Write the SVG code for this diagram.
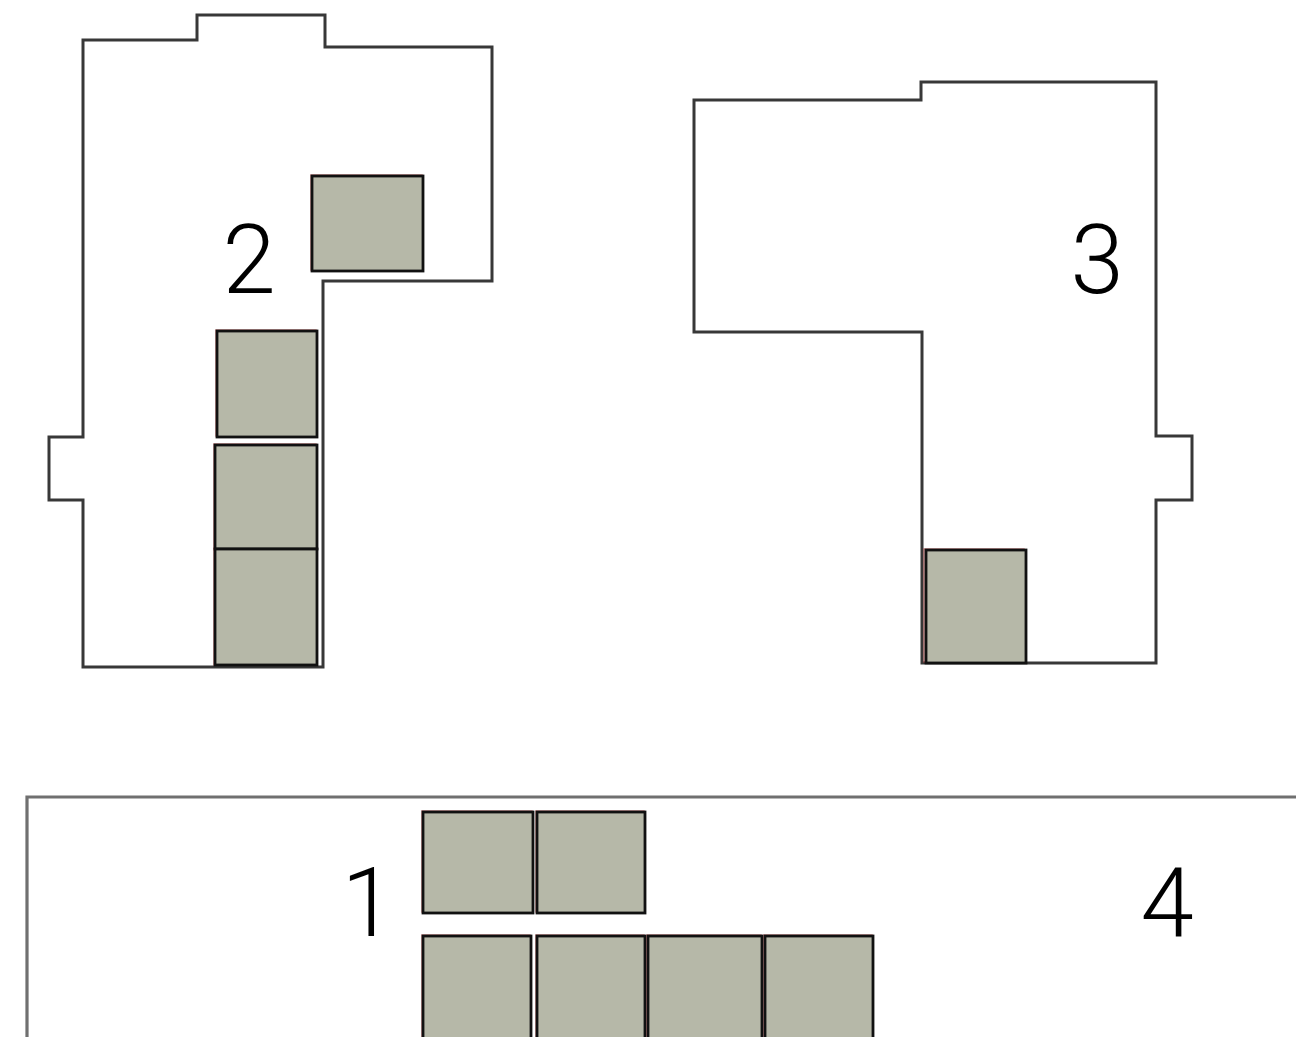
<svg xmlns="http://www.w3.org/2000/svg" width="1296" height="1037" viewBox="0 0 1296 1037">
<style>
.wall{fill:none;stroke:#383838;stroke-width:3;stroke-linejoin:miter}
.wall4{fill:none;stroke:#707070;stroke-width:3.2}
.tint{fill:none;stroke:#b04040;stroke-width:1.5;opacity:0.6}
.box{fill:#b6b8a8;stroke:#111;stroke-width:2.8}
.lbl{font-family:Roboto,"Liberation Sans",sans-serif;font-weight:300;font-size:96px;fill:#000;text-anchor:middle}
</style>
<rect width="1296" height="1037" fill="#fff"/>
<g id="room2">
<path class="wall" d="M83,40 L197,40 L197,15 L325,15 L325,47 L492,47 L492,281 L323,281 L323,667 L83,667 L83,500 L49,500 L49,437 L83,437 Z"/>
<rect class="tint" x="311" y="175" width="111" height="95"/>
<rect class="box" x="312" y="176" width="111" height="95"/>
<rect class="tint" x="216" y="330" width="100" height="106"/>
<rect class="box" x="217" y="331" width="100" height="106"/>
<rect class="tint" x="214" y="444" width="102" height="104"/>
<rect class="box" x="215" y="445" width="102" height="104"/>
<rect class="tint" x="214" y="549" width="102" height="116"/>
<rect class="box" x="215" y="549" width="102" height="116"/>
<text class="lbl" x="249" y="293">2</text>
</g>
<g id="room3">
<path class="wall" d="M694,100 L921,100 L921,82 L1156,82 L1156,436 L1192,436 L1192,500 L1156,500 L1156,663 L922,663 L922,332 L694,332 Z"/>
<rect class="tint" x="924" y="549" width="100" height="113"/>
<rect class="box" x="926" y="550" width="100" height="113"/>
<text class="lbl" x="1097" y="293">3</text>
</g>
<g id="room14">
<polyline class="wall4" points="27,1040 27,797 1300,797"/>
<rect class="tint" x="422" y="811" width="110" height="101"/>
<rect class="box" x="423" y="812" width="110" height="101"/>
<rect class="tint" x="536" y="811" width="108" height="101"/>
<rect class="box" x="537" y="812" width="108" height="101"/>
<rect class="tint" x="422" y="935" width="108" height="110"/>
<rect class="box" x="423" y="936" width="108" height="110"/>
<rect class="tint" x="536" y="935" width="108" height="110"/>
<rect class="box" x="537" y="936" width="108" height="110"/>
<rect class="tint" x="647" y="935" width="114" height="110"/>
<rect class="box" x="648" y="936" width="114" height="110"/>
<rect class="tint" x="764" y="935" width="108" height="110"/>
<rect class="box" x="765" y="936" width="108" height="110"/>
<text class="lbl" x="368" y="936">1</text>
<text class="lbl" x="1167" y="936">4</text>
</g>
</svg>
